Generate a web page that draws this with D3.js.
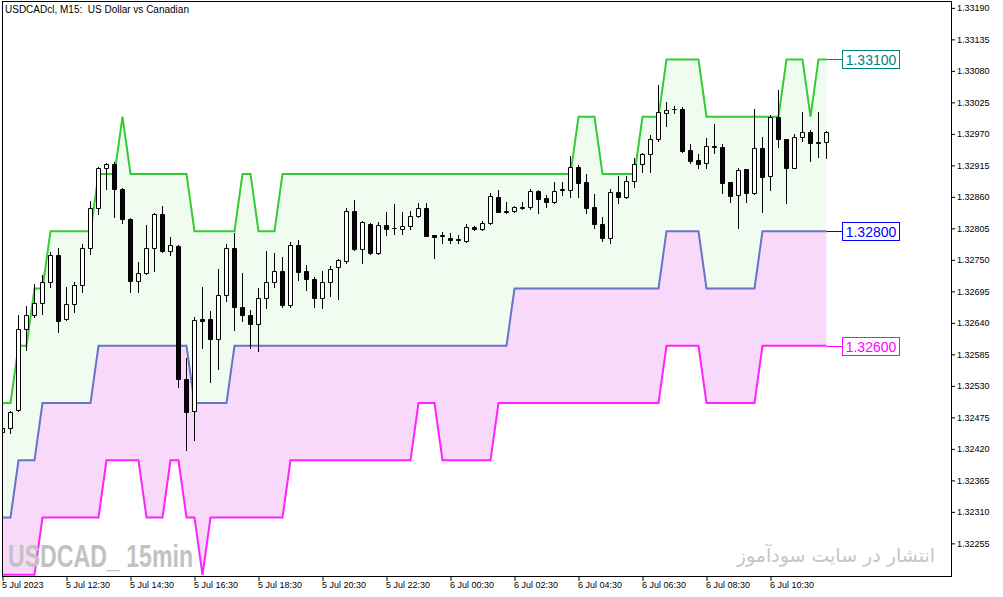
<!DOCTYPE html>
<html><head><meta charset="utf-8">
<script src="https://cdn.jsdelivr.net/npm/d3@7"></script>
<style>
html,body{margin:0;padding:0;background:#fff;}
svg{display:block;}
</style></head><body>
<svg id="chart" width="1003" height="597"></svg>
<script>
// ---- data (USDCAD M15, 5 Jul 2023 10:30 -> 6 Jul 12:15) ----
const opens = [1.32450,1.32457,1.32488,1.32630,1.32654,1.32675,1.32712,1.32759,1.32647,1.32673,
1.32706,1.32771,1.32841,1.32911,1.32918,1.32874,1.32822,1.32713,1.32727,1.32771,
1.32830,1.32766,1.32774,1.32542,1.32486,1.32647,1.32647,1.32612,1.32689,1.32771,
1.32668,1.32654,1.32638,1.32684,1.32712,1.32731,1.32671,1.32776,1.32731,1.32717,
1.32684,1.32712,1.32738,1.32748,1.32836,1.32769,1.32813,1.32762,1.32811,1.32806,
1.32804,1.32809,1.32827,1.32841,1.32794,1.32794,1.32788,1.32787,1.32783,1.32808,
1.32804,1.32815,1.32860,1.32836,1.32836,1.32841,1.32843,1.32870,1.32858,1.32851,
1.32874,1.32872,1.32912,1.32886,1.32843,1.32813,1.32788,1.32869,1.32860,1.32888,
1.32918,1.32935,1.32961,1.33007,1.33014,1.33014,1.32942,1.32925,1.32919,1.32949,
1.32947,1.32886,1.32863,1.32909,1.32867,1.32946,1.32897,1.33000,1.32961,1.32911,
1.32965,1.32974,1.32956,1.32956];
const highs = [1.32462,1.32486,1.32654,1.32670,1.32708,1.32724,1.32764,1.32771,1.32703,1.32712,
1.32778,1.32853,1.32912,1.32919,1.32921,1.32876,1.32823,1.32746,1.32811,1.32832,
1.32844,1.32790,1.32776,1.32579,1.32650,1.32703,1.32661,1.32734,1.32778,1.32797,
1.32727,1.32663,1.32701,1.32766,1.32762,1.32755,1.32781,1.32785,1.32741,1.32720,
1.32731,1.32740,1.32752,1.32841,1.32855,1.32818,1.32815,1.32816,1.32834,1.32848,
1.32834,1.32836,1.32850,1.32850,1.32794,1.32799,1.32797,1.32794,1.32813,1.32809,
1.32818,1.32867,1.32872,1.32851,1.32844,1.32851,1.32874,1.32872,1.32863,1.32886,
1.32886,1.32932,1.32916,1.32900,1.32865,1.32825,1.32874,1.32897,1.32897,1.32928,
1.32937,1.32968,1.33056,1.33026,1.33019,1.33017,1.32953,1.32935,1.32963,1.32988,
1.32953,1.32886,1.32911,1.32909,1.33014,1.32965,1.33003,1.33047,1.32961,1.32970,
1.33008,1.32977,1.33008,1.32975];
const lows = [1.32446,1.32448,1.32486,1.32593,1.32650,1.32656,1.32703,1.32624,1.32645,1.32659,
1.32694,1.32760,1.32830,1.32874,1.32825,1.32815,1.32694,1.32694,1.32726,1.32731,
1.32764,1.32759,1.32528,1.32418,1.32436,1.32596,1.32537,1.32560,1.32678,1.32628,
1.32643,1.32596,1.32591,1.32666,1.32703,1.32668,1.32668,1.32715,1.32698,1.32668,
1.32666,1.32687,1.32682,1.32745,1.32768,1.32745,1.32760,1.32760,1.32794,1.32795,
1.32795,1.32804,1.32825,1.32792,1.32754,1.32780,1.32780,1.32780,1.32781,1.32802,
1.32802,1.32813,1.32834,1.32832,1.32834,1.32839,1.32839,1.32832,1.32843,1.32850,
1.32863,1.32860,1.32860,1.32832,1.32806,1.32783,1.32780,1.32850,1.32858,1.32877,
1.32904,1.32904,1.32958,1.32984,1.33007,1.32939,1.32919,1.32911,1.32911,1.32937,
1.32867,1.32851,1.32806,1.32851,1.32865,1.32834,1.32872,1.32947,1.32850,1.32911,
1.32958,1.32923,1.32930,1.32928];
const closes = [1.32457,1.32485,1.32630,1.32654,1.32675,1.32712,1.32759,1.32643,1.32673,1.32706,
1.32771,1.32841,1.32911,1.32918,1.32874,1.32822,1.32713,1.32727,1.32771,1.32830,
1.32766,1.32776,1.32542,1.32485,1.32645,1.32643,1.32612,1.32689,1.32771,1.32668,
1.32654,1.32638,1.32684,1.32712,1.32731,1.32671,1.32776,1.32729,1.32717,1.32684,
1.32712,1.32734,1.32750,1.32836,1.32769,1.32816,1.32762,1.32811,1.32804,1.32805,
1.32809,1.32827,1.32841,1.32792,1.32790,1.32792,1.32785,1.32785,1.32808,1.32804,
1.32815,1.32862,1.32834,1.32834,1.32843,1.32843,1.32870,1.32857,1.32851,1.32870,
1.32872,1.32912,1.32884,1.32841,1.32813,1.32788,1.32869,1.32860,1.32888,1.32918,
1.32935,1.32961,1.33008,1.33012,1.33013,1.32940,1.32923,1.32918,1.32949,1.32947,
1.32884,1.32862,1.32907,1.32867,1.32946,1.32895,1.33000,1.32961,1.32911,1.32965,
1.32974,1.32954,1.32954,1.32974];

const upperBand = [1.325,1.325,1.326,1.326,1.327,1.327,1.328,1.328,1.328,1.328,
1.328,1.328,1.329,1.329,1.329,1.330,1.329,1.329,1.329,1.329,
1.329,1.329,1.329,1.329,1.328,1.328,1.328,1.328,1.328,1.328,
1.329,1.329,1.328,1.328,1.328,1.329,1.329,1.329,1.329,1.329,
1.329,1.329,1.329,1.329,1.329,1.329,1.329,1.329,1.329,1.329,
1.329,1.329,1.329,1.329,1.329,1.329,1.329,1.329,1.329,1.329,
1.329,1.329,1.329,1.329,1.329,1.329,1.329,1.329,1.329,1.329,
1.329,1.329,1.330,1.330,1.330,1.329,1.329,1.329,1.329,1.329,
1.330,1.330,1.330,1.331,1.331,1.331,1.331,1.331,1.330,1.330,
1.330,1.330,1.330,1.330,1.330,1.330,1.330,1.330,1.331,1.331,
1.331,1.330,1.331,1.331];
const middleBand = [1.323,1.323,1.324,1.324,1.324,1.325,1.325,1.325,1.325,1.325,
1.325,1.325,1.326,1.326,1.326,1.326,1.326,1.326,1.326,1.326,
1.326,1.326,1.326,1.326,1.325,1.325,1.325,1.325,1.325,1.326,
1.326,1.326,1.326,1.326,1.326,1.326,1.326,1.326,1.326,1.326,
1.326,1.326,1.326,1.326,1.326,1.326,1.326,1.326,1.326,1.326,
1.326,1.326,1.326,1.326,1.326,1.326,1.326,1.326,1.326,1.326,
1.326,1.326,1.326,1.326,1.327,1.327,1.327,1.327,1.327,1.327,
1.327,1.327,1.327,1.327,1.327,1.327,1.327,1.327,1.327,1.327,
1.327,1.327,1.327,1.328,1.328,1.328,1.328,1.328,1.327,1.327,
1.327,1.327,1.327,1.327,1.327,1.328,1.328,1.328,1.328,1.328,
1.328,1.328,1.328,1.328];
const lowerBand = [1.322,1.322,1.322,1.322,1.322,1.323,1.323,1.323,1.323,1.323,
1.323,1.323,1.323,1.324,1.324,1.324,1.324,1.324,1.323,1.323,
1.323,1.324,1.324,1.323,1.323,1.322,1.323,1.323,1.323,1.323,
1.323,1.323,1.323,1.323,1.323,1.323,1.324,1.324,1.324,1.324,
1.324,1.324,1.324,1.324,1.324,1.324,1.324,1.324,1.324,1.324,
1.324,1.324,1.325,1.325,1.325,1.324,1.324,1.324,1.324,1.324,
1.324,1.324,1.325,1.325,1.325,1.325,1.325,1.325,1.325,1.325,
1.325,1.325,1.325,1.325,1.325,1.325,1.325,1.325,1.325,1.325,
1.325,1.325,1.325,1.326,1.326,1.326,1.326,1.326,1.325,1.325,
1.325,1.325,1.325,1.325,1.325,1.326,1.326,1.326,1.326,1.326,
1.326,1.326,1.326,1.326];

const timeTickIndex = [0,8,16,24,32,40,48,56,64,72,80,88,96];
const timeLabels = ["5 Jul 2023","5 Jul 12:30","5 Jul 14:30","5 Jul 16:30","5 Jul 18:30","5 Jul 20:30",
  "5 Jul 22:30","6 Jul 00:30","6 Jul 02:30","6 Jul 04:30","6 Jul 06:30","6 Jul 08:30","6 Jul 10:30"];
const priceTicks = [1.33190,1.33135,1.33080,1.33025,1.32970,1.32915,1.32860,1.32805,1.32750,
  1.32695,1.32640,1.32585,1.32530,1.32475,1.32420,1.32365,1.32310,1.32255];
const levelValues = [1.33100, 1.32800, 1.32600];
const levelLabels = ["1.33100", "1.32800", "1.32600"];
const titleText = "USDCADcl, M15:  US Dollar vs Canadian";
const watermarkLeft = "USDCAD_ 15min";
const watermarkRight = "انتشار در سایت سودآموز";

// ---- layout ----
const L = 2.5, R = 951.5, T = 1.5, B = 576.5;
const svg = d3.select("#chart");
const n = opens.length;
const x = d3.scaleLinear().domain([0, 117.5]).range([2.5, 942.5]);
const y = d3.scaleLinear().domain([1.32198, 1.33202]).range([576, 1]);

svg.append("defs").append("clipPath").attr("id","plotclip")
  .append("rect").attr("x", L).attr("y", T).attr("width", R - L).attr("height", B - T);

const plot = svg.append("g").attr("clip-path","url(#plotclip)");
const idx = d3.range(n);

// fills
const areaUpper = d3.area().x(i => x(i)).y0(i => y(middleBand[i])).y1(i => y(upperBand[i]));
const areaLower = d3.area().x(i => x(i)).y0(i => y(lowerBand[i])).y1(i => y(middleBand[i]));
plot.append("path").datum(idx).attr("d", areaUpper).attr("fill", "#f0fcf0");
plot.append("path").datum(idx).attr("d", areaLower).attr("fill", "#f9d9f9");

// band lines
const mkLine = arr => d3.line().x(i => x(i)).y(i => y(arr[i]));
plot.append("path").datum(idx).attr("d", mkLine(upperBand)).attr("fill","none").attr("stroke","#32cd32").attr("stroke-width",2);
plot.append("path").datum(idx).attr("d", mkLine(middleBand)).attr("fill","none").attr("stroke","#6673c8").attr("stroke-width",2);
plot.append("path").datum(idx).attr("d", mkLine(lowerBand)).attr("fill","none").attr("stroke","#ff22ff").attr("stroke-width",2);

// watermarks
svg.append("text").attr("x", 8).attr("y", 567)
  .attr("font-family","'Liberation Sans',Arial,sans-serif")
  .attr("font-weight","bold").attr("font-size", 31).attr("fill","#c2c2c2")
  .attr("textLength", 185).attr("lengthAdjust","spacingAndGlyphs")
  .text(watermarkLeft);
svg.append("text").attr("x", 935).attr("y", 562).attr("text-anchor","end")
  .attr("font-family","'DejaVu Sans',sans-serif").attr("font-size", 19).attr("fill","#c6c6c6")
  .text(watermarkRight);

// candles
const cg = plot.append("g");
idx.forEach(i => {
  const cx = x(i);
  const o = opens[i], c = closes[i];
  const up = c >= o;
  cg.append("line").attr("x1", cx).attr("x2", cx)
    .attr("y1", Math.round(y(highs[i]))).attr("y2", Math.round(y(lows[i])) + 1)
    .attr("stroke","#000").attr("stroke-width",1);
  const yt = Math.round(y(Math.max(o,c))) + 0.5;
  const yb = Math.round(y(Math.min(o,c))) + 0.5;
  cg.append("path")
    .attr("d", `M${cx-2},${yt}H${cx+2}V${yb}H${cx-2}Z`)
    .attr("fill", up ? "#ffffff" : "#0c0010")
    .attr("stroke","#000").attr("stroke-width",1);
});

// level markers on the right
const levelColors = ["#008080", "#0000ff", "#ff00ff"];
levelValues.forEach((v, j) => {
  const yl = Math.round(y(v)) + 0.5;
  svg.append("line").attr("x1", x(n - 1)).attr("x2", 842).attr("y1", yl).attr("y2", yl)
    .attr("stroke", levelColors[j]).attr("stroke-width",1);
  svg.append("rect").attr("x", 842.5).attr("y", yl - 9).attr("width", 57).attr("height", 18)
    .attr("fill","#fff").attr("stroke", levelColors[j]).attr("stroke-width",1);
  svg.append("text").attr("x", 871).attr("y", yl + 5).attr("text-anchor","middle")
    .attr("font-family","'Liberation Sans',Arial,sans-serif").attr("font-size", 14)
    .attr("fill", levelColors[j]).text(levelLabels[j]);
});

// frame
svg.append("rect").attr("x", L).attr("y", T).attr("width", R - L).attr("height", B - T)
  .attr("fill","none").attr("stroke","#000").attr("stroke-width",1);

// axes
const yAxis = d3.axisRight(y).tickValues(priceTicks).tickSize(4).tickFormat(d3.format(".5f"));
const gy = svg.append("g").attr("transform", `translate(${R - 0.5},0)`).call(yAxis);
gy.select(".domain").remove();
gy.selectAll("text").attr("x", 6).attr("font-family","'Liberation Sans',Arial,sans-serif").attr("font-size", 9).attr("fill","#000");
gy.selectAll("line").attr("stroke","#000");

const xAxis = d3.axisBottom(x).tickValues(timeTickIndex).tickSize(5).tickFormat((d, i) => timeLabels[i]);
const gx = svg.append("g").attr("transform", `translate(0,${B - 0.5})`).call(xAxis);
gx.select(".domain").remove();
gx.selectAll("text").attr("text-anchor","start").attr("x", -1).attr("y", 6)
  .attr("font-family","'Liberation Sans',Arial,sans-serif").attr("font-size", 9).attr("fill","#000");
gx.selectAll("line").attr("stroke","#000");

// title
svg.append("text").attr("x", 5).attr("y", 13)
  .attr("font-family","'Liberation Sans',Arial,sans-serif").attr("font-size", 10).attr("fill","#000")
  .style("white-space","pre")
  .text(titleText);
</script>
</body></html>
